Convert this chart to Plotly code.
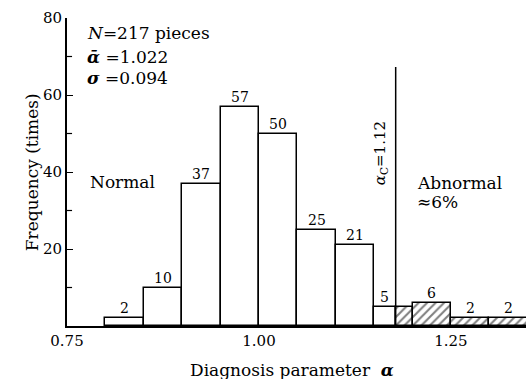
import plotly.graph_objects as go

# Histogram of the diagnosis parameter
bin_edges = [0.80, 0.85, 0.90, 0.95, 1.00, 1.05, 1.10, 1.15, 1.20, 1.25, 1.30, 1.35]
counts = [2, 10, 37, 57, 50, 25, 21, 5, 6, 2, 2]
threshold_x = 1.178      # position of the critical-value line on the axis
threshold_top = 67.3     # height of the critical-value line
x_ticks = [0.75, 1.00, 1.25]
x_ticktext = ["0.75", "1.00", "1.25"]
y_ticks = [20, 40, 60, 80]
y_minor = [10, 30, 50, 70]

FONT = "DejaVu Serif"

norm_x, norm_w, norm_y = [], [], []
abn_x, abn_w, abn_y = [], [], []
labels = []
for i, c in enumerate(counts):
    lo, hi = bin_edges[i], bin_edges[i + 1]
    if hi <= threshold_x:
        norm_x.append((lo + hi) / 2); norm_w.append(hi - lo); norm_y.append(c)
        labels.append(((lo + hi) / 2, c))
    elif lo >= threshold_x:
        abn_x.append((lo + hi) / 2); abn_w.append(hi - lo); abn_y.append(c)
        labels.append(((lo + hi) / 2, c))
    else:
        norm_x.append((lo + threshold_x) / 2); norm_w.append(threshold_x - lo); norm_y.append(c)
        abn_x.append((threshold_x + hi) / 2); abn_w.append(hi - threshold_x); abn_y.append(c)
        labels.append(((lo + threshold_x) / 2, c))

fig = go.Figure()
fig.add_trace(go.Bar(
    x=norm_x, y=norm_y, width=norm_w,
    marker=dict(color="white", line=dict(color="black", width=1.5)),
    showlegend=False, hoverinfo="skip",
))
fig.add_trace(go.Bar(
    x=abn_x, y=abn_y, width=abn_w,
    marker=dict(color="white", line=dict(color="black", width=1.5),
                pattern=dict(shape="/", fgcolor="black", bgcolor="white",
                             size=6, solidity=0.35)),
    showlegend=False, hoverinfo="skip",
))

# count labels above bars
for xc, c in labels:
    fig.add_annotation(x=xc, y=c, text=str(c), showarrow=False,
                       yanchor="bottom", yshift=0,
                       font=dict(family=FONT, size=14, color="black"))

# critical value line
fig.add_shape(type="line", x0=threshold_x, x1=threshold_x, y0=0, y1=threshold_top,
              line=dict(color="black", width=1.5))

# minor ticks on the y axis
for v in y_minor:
    fig.add_shape(type="line", xref="paper", x0=0, x1=0.011, y0=v, y1=v,
                  line=dict(color="black", width=1.2))

txt = dict(showarrow=False, font=dict(family=FONT, size=17, color="black"))
fig.add_annotation(x=0.7734, y=76.1, xanchor="left", text="<i>N</i>=217 pieces", **txt)
fig.add_annotation(x=0.7734, y=69.9, xanchor="left", text="<b><i>ᾱ</i></b> =1.022", **txt)
fig.add_annotation(x=0.7734, y=64.4, xanchor="left", text="<b><i>σ</i></b> =0.094", **txt)
fig.add_annotation(x=0.777, y=37.4, xanchor="left", text="Normal", **txt)
fig.add_annotation(x=1.203, y=37.1, xanchor="left", text="Abnormal", **txt)
fig.add_annotation(x=1.203, y=32.2, xanchor="left", text="≈6%", **txt)
fig.add_annotation(x=1.1576, y=44.9, textangle=-90,
                   text="<i>α</i><sub>C</sub>=1.12",
                   showarrow=False, font=dict(family=FONT, size=15, color="black"))

fig.add_annotation(xref="paper", yref="paper", x=0.49, y=-0.143, yanchor="middle",
                   text="Diagnosis parameter  <b><i>α</i></b>", **txt)
fig.add_annotation(xref="paper", yref="paper", x=-0.102, y=0.5, textangle=-90,
                   text="Frequency (times)", **txt)

fig.update_layout(
    width=526, height=379,
    margin=dict(l=67, r=0, t=18, b=53),
    paper_bgcolor="white", plot_bgcolor="white",
    barmode="overlay", bargap=0,
    font=dict(family=FONT, size=15, color="black"),
    xaxis=dict(range=[0.75, 1.3477], tickvals=x_ticks, ticktext=x_ticktext,
               showgrid=False, zeroline=False, showline=True, linecolor="black",
               linewidth=2, ticks="", ticklen=0,
               tickfont=dict(family=FONT, size=15)),
    yaxis=dict(range=[0, 80], tickvals=y_ticks, showgrid=False, zeroline=False,
               showline=True, linecolor="black", linewidth=2,
               ticks="inside", ticklen=6, tickwidth=1.2, tickcolor="black",
               tickfont=dict(family=FONT, size=15)),
)

fig.write_html("out.html")
